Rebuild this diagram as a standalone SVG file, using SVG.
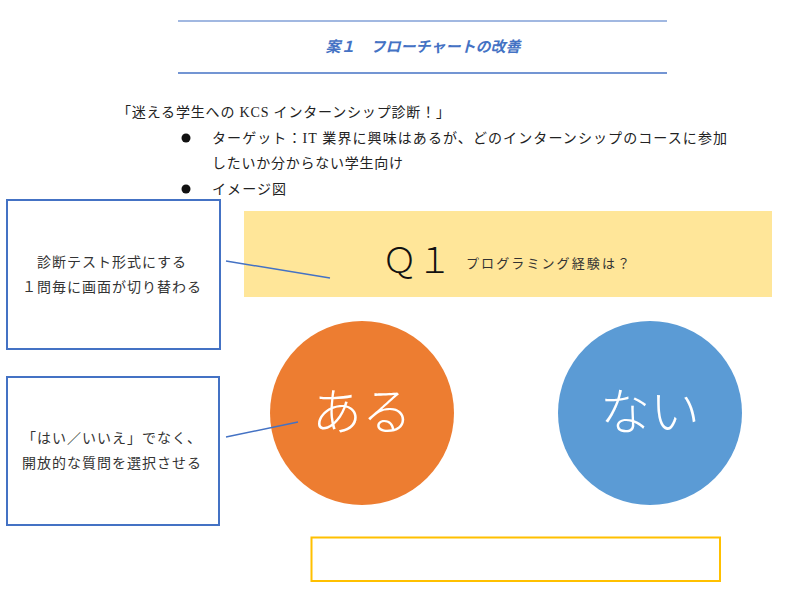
<svg xmlns="http://www.w3.org/2000/svg" width="800" height="600" viewBox="0 0 800 600">
<style>
.body{font-family:"Liberation Serif","Noto Sans CJK JP",serif;font-size:14px;fill:#222}
.note{font-family:"Liberation Serif","Noto Sans CJK JP",serif;font-size:14px;fill:#333;text-anchor:middle;letter-spacing:1px}
.box{fill:#fff;stroke:#4472C4;stroke-width:2}
.conn{stroke:#4472C4;stroke-width:1.5;fill:none}
.big{font-family:"Noto Sans CJK JP",sans-serif;fill:#fff;font-size:50px;text-anchor:middle;font-weight:300}
</style>
<rect width="800" height="600" fill="#fff"/>
<g id="title">
<line x1="178" y1="21" x2="667" y2="21" stroke="#4472C4" stroke-width="1.2"/>
<line x1="178" y1="73" x2="667" y2="73" stroke="#4472C4" stroke-width="1.5"/>
<text x="423" y="52" text-anchor="middle" font-family="Liberation Serif,'Noto Sans CJK JP',serif" font-size="15" font-style="italic" font-weight="bold" fill="#4472C4">案１　フローチャートの改善</text>
</g>
<g id="intro" class="body">
<text x="117" y="117" textLength="333" lengthAdjust="spacing">「迷える学生への KCS インターンシップ診断！」</text>
<circle cx="186" cy="138" r="4.5" fill="#111"/>
<text x="212" y="143" textLength="515" lengthAdjust="spacing">ターゲット：IT 業界に興味はあるが、どのインターンシップのコースに参加</text>
<text x="212" y="168" textLength="191" lengthAdjust="spacing">したいか分からない学生向け</text>
<circle cx="186" cy="189" r="4.5" fill="#111"/>
<text x="212" y="194" textLength="74" lengthAdjust="spacing">イメージ図</text>
</g>
<g id="question">
<rect x="244" y="211" width="528" height="86" fill="#FFE699"/>
<text x="382" y="273" font-family="'Noto Sans CJK JP',sans-serif" font-size="35" font-weight="300" fill="#111">Ｑ１</text>
<text x="466" y="268" font-family="'Noto Sans CJK JP',sans-serif" font-size="13" fill="#333" textLength="164" lengthAdjust="spacing">プログラミング経験は？</text>
</g>
<g id="yes">
<circle cx="362" cy="413" r="92" fill="#ED7D31"/>
<text x="362" y="430" class="big">ある</text>
</g>
<g id="no">
<circle cx="650" cy="413" r="92" fill="#5B9BD5"/>
<text x="650" y="430" class="big">ない</text>
</g>
<g id="note1">
<rect x="7" y="200" width="213" height="149" class="box"/>
<text x="112" y="267" class="note">診断テスト形式にする</text>
<text x="112" y="292" class="note">１問毎に画面が切り替わる</text>
</g>
<g id="note2">
<rect x="7" y="377" width="212" height="148" class="box"/>
<text x="112" y="443" class="note">「はい／いいえ」でなく、</text>
<text x="112" y="468" class="note">開放的な質問を選択させる</text>
</g>
<g id="answer">
<rect x="311.5" y="537.5" width="408.5" height="43.5" fill="#fff" stroke="#FFC000" stroke-width="2"/>
</g>
<g id="connectors">
<line x1="226" y1="261" x2="330" y2="278" class="conn"/>
<line x1="226" y1="437" x2="298" y2="422" class="conn"/>
</g>
</svg>
